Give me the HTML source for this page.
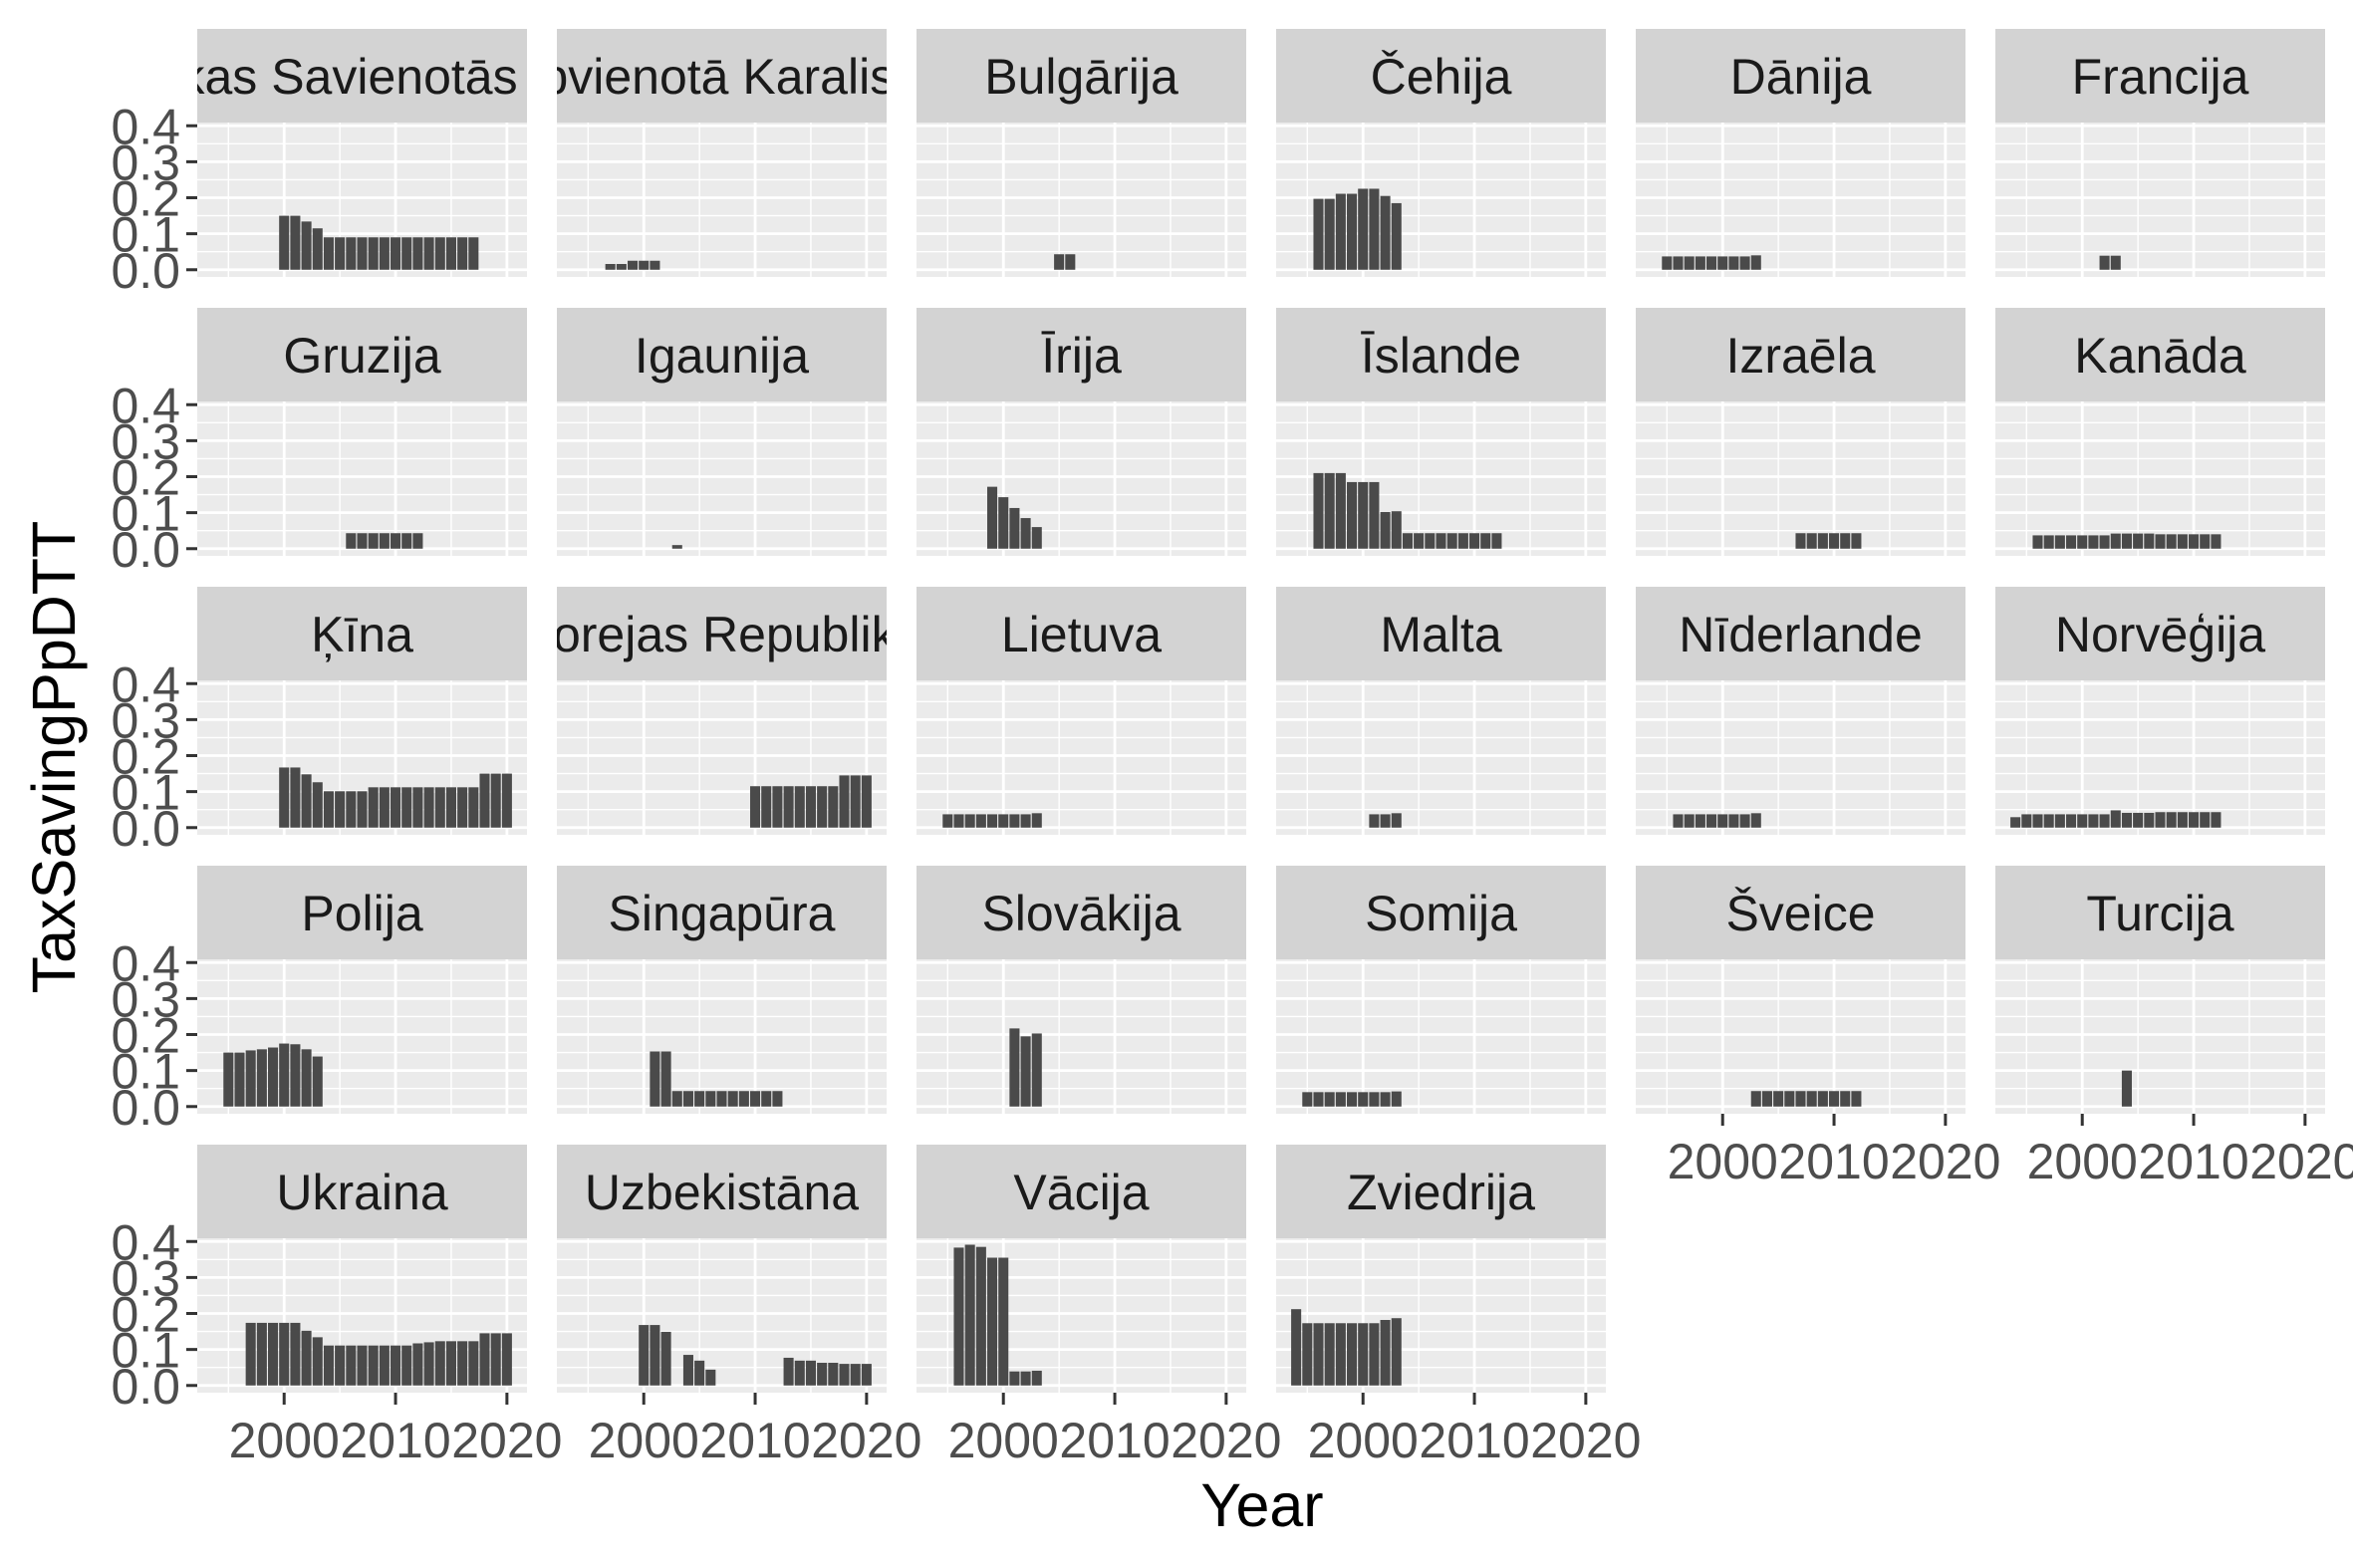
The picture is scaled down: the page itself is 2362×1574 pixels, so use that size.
<!DOCTYPE html>
<html><head><meta charset="utf-8">
<style>
html,body{margin:0;padding:0;background:#fff;}
svg{display:block;font-family:"Liberation Sans","DejaVu Sans",sans-serif;}
</style></head>
<body>
<svg id="chart" width="2362" height="1574" viewBox="0 0 2362 1574" xmlns="http://www.w3.org/2000/svg">
<text x="0" y="0" transform="translate(75,760) rotate(-90)" text-anchor="middle" font-size="61" fill="#000">TaxSavingPpDTT</text>
<text x="1267" y="1532" text-anchor="middle" font-size="61" fill="#000">Year</text>
</svg>
<script>
const countries = ["Amerikas Savienotās Valstis","Apvienotā Karaliste","Bulgārija","Čehija","Dānija","Francija",
"Gruzija","Igaunija","Īrija","Īslande","Izraēla","Kanāda",
"Ķīna","Korejas Republika","Lietuva","Malta","Nīderlande","Norvēģija",
"Polija","Singapūra","Slovākija","Somija","Šveice","Turcija",
"Ukraina","Uzbekistāna","Vācija","Zviedrija"];
const firstYears = [2000,1997,2005,1996,1995,2002, 2006,2003,1999,1996,2007,1996, 2000,2010,1995,2001,1996,1994, 1995,2001,2001,1995,2003,2004, 1997,2000,1996,1994];
const valsASV = [0.15,0.15,0.134,0.115,0.09,0.09,0.09,0.09,0.09,0.09,0.09,0.09,0.09,0.09,0.09,0.09,0.09,0.09];
const valsUK = [0.016,0.016,0.025,0.025,0.025];
const valsBulgaria = [0.043,0.043];
const valsCzech = [0.197,0.197,0.211,0.211,0.225,0.225,0.205,0.185];
const valsDenmark = [0.037,0.037,0.037,0.037,0.037,0.037,0.037,0.037,0.04];
const valsFrance = [0.039,0.039];
const valsGeorgia = [0.043,0.043,0.043,0.043,0.043,0.043,0.043];
const valsEstonia = [0.01];
const valsIreland = [0.172,0.143,0.113,0.085,0.06];
const valsIceland = [0.21,0.21,0.21,0.185,0.185,0.185,0.102,0.104,0.043,0.043,0.043,0.043,0.043,0.043,0.043,0.043,0.043];
const valsIsrael = [0.043,0.043,0.043,0.043,0.043,0.043];
const valsCanada = [0.037,0.037,0.037,0.037,0.037,0.037,0.037,0.042,0.042,0.042,0.042,0.04,0.04,0.04,0.04,0.04,0.04];
const valsChina = [0.167,0.167,0.148,0.126,0.101,0.101,0.101,0.101,0.112,0.112,0.112,0.112,0.112,0.112,0.112,0.112,0.112,0.112,0.15,0.15,0.15];
const valsKorea = [0.115,0.115,0.115,0.115,0.115,0.115,0.115,0.115,0.145,0.145,0.145];
const valsLithuania = [0.037,0.037,0.037,0.037,0.037,0.037,0.037,0.037,0.04];
const valsMalta = [0.037,0.037,0.04];
const valsNetherlands = [0.037,0.037,0.037,0.037,0.037,0.037,0.037,0.04];
const valsNorway = [0.029,0.037,0.037,0.037,0.037,0.037,0.037,0.037,0.037,0.048,0.041,0.041,0.041,0.043,0.043,0.043,0.043,0.043,0.043];
const valsPoland = [0.150,0.150,0.156,0.159,0.164,0.175,0.173,0.159,0.139];
const valsSingapore = [0.153,0.153,0.043,0.043,0.043,0.043,0.043,0.043,0.043,0.043,0.043,0.043];
const valsSlovakia = [0.217,0.195,0.203];
const valsFinland = [0.04,0.04,0.04,0.04,0.04,0.04,0.04,0.04,0.042];
const valsSwitzerland = [0.043,0.043,0.043,0.043,0.043,0.043,0.043,0.043,0.043,0.043];
const valsTurkey = [0.10];
const valsUkraine = [0.174,0.174,0.174,0.174,0.174,0.152,0.134,0.111,0.111,0.111,0.111,0.111,0.111,0.111,0.111,0.117,0.12,0.123,0.123,0.123,0.123,0.145,0.145,0.145];
const valsUzbekistan = [0.168,0.168,0.149,null,0.085,0.069,0.044,null,null,null,null,null,null,0.077,0.069,0.069,0.063,0.063,0.06,0.06,0.06];
const valsGermany = [0.383,0.391,0.385,0.355,0.355,0.039,0.039,0.041];
const valsSweden = [0.212,0.173,0.173,0.173,0.173,0.173,0.173,0.173,0.182,0.187];
const seriesValues = [valsASV,valsUK,valsBulgaria,valsCzech,valsDenmark,valsFrance,valsGeorgia,valsEstonia,valsIreland,valsIceland,valsIsrael,valsCanada,valsChina,valsKorea,valsLithuania,valsMalta,valsNetherlands,valsNorway,valsPoland,valsSingapore,valsSlovakia,valsFinland,valsSwitzerland,valsTurkey,valsUkraine,valsUzbekistan,valsGermany,valsSweden];
const xTicks = [2000,2010,2020];
const xMinor = [1995,2005,2015];
const yTicks = [0,0.1,0.2,0.3,0.4];
const yTickLabels = ["0.0","0.1","0.2","0.3","0.4"];
const yMinor = [0.05,0.15,0.25,0.35];

const NS = "http://www.w3.org/2000/svg";
const svg = document.getElementById("chart");
const PL = 198, PITCH_X = 361, PW = 331;
const ST = 29, PITCH_Y = 280, SH = 94, PH = 155;
const X0 = 1992.2, X1 = 2021.8, Y0 = -0.02, Y1 = 0.409;
function mk(tag, attrs, parent){ const e=document.createElementNS(NS,tag); for(const k in attrs) e.setAttribute(k,attrs[k]); (parent||svg).appendChild(e); return e; }
function xScale(year, left){ return left + (year - X0) / (X1 - X0) * PW; }
function yScale(v, top){ return top + PH - (v - Y0) / (Y1 - Y0) * PH; }

const defs = mk("defs",{});
countries.forEach((name, i) => {
  const col = i % 6, row = Math.floor(i / 6);
  const left = PL + col * PITCH_X;
  const stripTop = ST + row * PITCH_Y;
  const top = stripTop + SH;
  const g = mk("g",{});
  
  
  const cp = mk("clipPath",{id:"clip"+i}, defs);
  mk("rect",{x:left,y:stripTop,width:PW,height:SH},cp);
  const strip = mk("rect",{x:left,y:stripTop,width:PW,height:SH,fill:"#d3d3d3"},g);
  
  
  const st = mk("text",{x:left+PW/2,y:stripTop+SH/2+18,"text-anchor":"middle","font-size":"50",fill:"#1a1a1a","clip-path":"url(#clip"+i+")"},g);
  st.textContent = name;
  
  
  const bg = mk("rect",{x:left,y:top,width:PW,height:PH,fill:"#ebebeb"},g);
  
  
  yMinor.forEach(v => { const y=yScale(v,top); mk("line",{x1:left,x2:left+PW,y1:y,y2:y,stroke:"#fff","stroke-width":1.4},g); });
  xMinor.forEach(v => { const x=xScale(v,left); mk("line",{x1:x,x2:x,y1:top,y2:top+PH,stroke:"#fff","stroke-width":1.4},g); });
  yTicks.forEach(v => { const y=yScale(v,top); mk("line",{x1:left,x2:left+PW,y1:y,y2:y,stroke:"#fff","stroke-width":2.8},g); });
  xTicks.forEach(v => { const x=xScale(v,left); mk("line",{x1:x,x2:x,y1:top,y2:top+PH,stroke:"#fff","stroke-width":2.8},g); });
  const vals = seriesValues[i];
  vals.forEach((v, k) => {
    if (v === null) return;
    const yr = firstYears[i] + k;
    const x0 = xScale(yr - 0.45, left), x1 = xScale(yr + 0.45, left);
    const yt = yScale(v, top), yb = yScale(0, top);
    const b = mk("rect",{x:x0,y:yt,width:x1-x0,height:yb-yt,fill:"#4a4a4a"},g);
    
    
  });
  if (col === 0) {
    yTicks.forEach((v, k) => {
      const y=yScale(v,top);
      mk("line",{x1:left-11,x2:left,y1:y,y2:y,stroke:"#333","stroke-width":3},g);
      const t = mk("text",{x:left-17,y:y+18,"text-anchor":"end","font-size":"50",fill:"#4d4d4d"},g);
      t.textContent = yTickLabels[k];
      
      
    });
  }
  const isBottom = (row === 4) || (row === 3 && col >= 4);
  if (isBottom) {
    xTicks.forEach(v => {
      const x=xScale(v,left);
      mk("line",{x1:x,x2:x,y1:top+PH,y2:top+PH+12,stroke:"#333","stroke-width":3},g);
      const t = mk("text",{x:x,y:top+PH+65,"text-anchor":"middle","font-size":"50",fill:"#4d4d4d"},g);
      t.textContent = String(v);
      
      
    });
  }
});
</script>
</body></html>
